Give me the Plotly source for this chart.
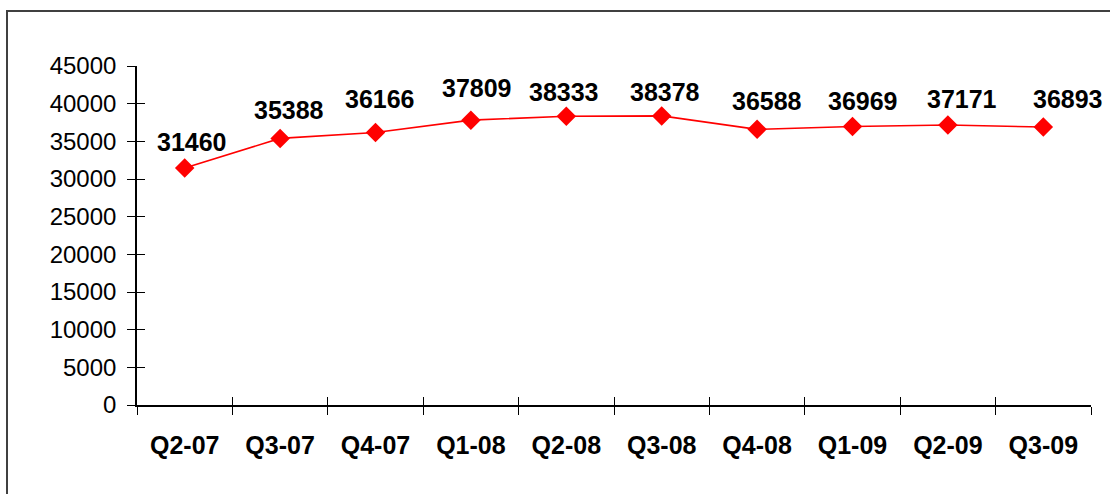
import plotly.graph_objects as go

categories = ["Q2-07", "Q3-07", "Q4-07", "Q1-08", "Q2-08", "Q3-08", "Q4-08", "Q1-09", "Q2-09", "Q3-09"]
values = [31460, 35388, 36166, 37809, 38333, 38378, 36588, 36969, 37171, 36893]
y_ticks = [0, 5000, 10000, 15000, 20000, 25000, 30000, 35000, 40000, 45000]

# label placement offsets (pixels) relative to each point
label_dx = [7, 9, 4, 6, -2, 3, 10, 10, 14, 25]
label_dy = [25, 27, 33, 31, 23.5, 22.5, 27.5, 25, 25, 27]

W, H = 1110, 494
L, R, T, B = 137, 19, 66, 89
pw, ph = W - L - R, H - T - B

FONT = "Liberation Sans, Arial, sans-serif"

fig = go.Figure()
fig.add_trace(go.Scatter(
    x=categories, y=values,
    mode="lines+markers",
    line=dict(color="#ff0000", width=1.6),
    marker=dict(symbol="diamond", size=15, color="#ff0000"),
    cliponaxis=False,
    showlegend=False,
))
# helper invisible trace for overlay axes
fig.add_trace(go.Scatter(x=categories, y=values, xaxis="x2", yaxis="y2",
                         mode="markers", marker=dict(opacity=0), showlegend=False,
                         hoverinfo="skip"))

for c, v, dx, dy in zip(categories, values, label_dx, label_dy):
    fig.add_annotation(
        x=c, y=v, xref="x", yref="y", text=str(v), showarrow=False,
        xanchor="center", yanchor="middle", xshift=dx, yshift=dy + 1,
        font=dict(family=FONT, size=25, color="#000000", weight="bold"),
    )

fig.update_layout(
    width=W, height=H,
    margin=dict(l=L, r=R, t=T, b=B),
    paper_bgcolor="white", plot_bgcolor="white",
    font=dict(family=FONT, color="#000000"),
    xaxis=dict(
        type="category", categoryorder="array", categoryarray=categories,
        range=[-0.5, 9.5], tickson="boundaries",
        ticks="outside", ticklen=8, tickwidth=1.3, tickcolor="#000",
        showline=True, linecolor="#000", linewidth=1.6,
        showgrid=False, zeroline=False,
        tickfont=dict(family=FONT, size=25, color="#000", weight="bold"),
        ticklabelstandoff=17,
    ),
    yaxis=dict(
        range=[0, 45000], tickvals=y_ticks, ticktext=[str(v) for v in y_ticks],
        ticks="outside", ticklen=8, tickwidth=1.3, tickcolor="#000",
        showline=True, linecolor="#000", linewidth=1.6,
        showgrid=False, zeroline=False,
        tickfont=dict(family=FONT, size=24, color="#000"),
        ticklabelstandoff=6,
    ),
    xaxis2=dict(
        type="category", categoryorder="array", categoryarray=categories,
        range=[-0.5, 9.5], tickson="boundaries", overlaying="x", matches="x",
        ticks="inside", ticklen=8, tickwidth=1.3, tickcolor="#000",
        showticklabels=False, showline=False, showgrid=False, zeroline=False,
    ),
    yaxis2=dict(
        range=[0, 45000], tickvals=y_ticks, overlaying="y", matches="y",
        ticks="inside", ticklen=8, tickwidth=1.3, tickcolor="#000",
        showticklabels=False, showline=False, showgrid=False, zeroline=False,
    ),
    shapes=[dict(
        type="rect", xref="paper", yref="paper",
        x0=(7 - L) / pw, x1=(W + 20 - L) / pw,
        y0=-(H + 20 - T - ph) / ph, y1=(H - B - 11) / ph,
        line=dict(color="#404040", width=2), fillcolor="rgba(0,0,0,0)",
        layer="below",
    )],
)

fig.write_html("out.html", config={"displayModeBar": False},
               post_script="document.body.style.margin='0';document.body.style.overflow='hidden';")
